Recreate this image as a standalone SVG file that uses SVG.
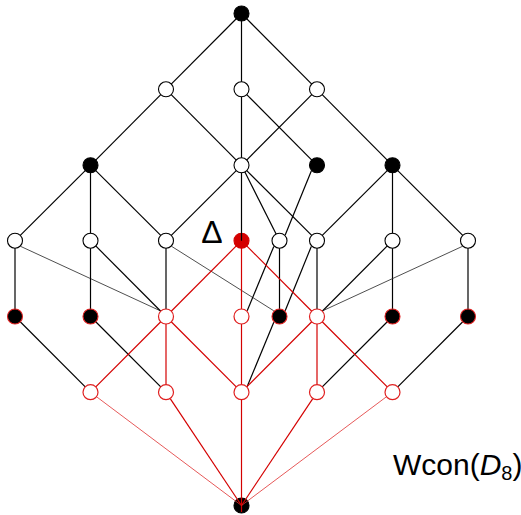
<svg xmlns="http://www.w3.org/2000/svg" width="521" height="515" viewBox="0 0 521 515">
<style>
.e{stroke:#000;stroke-width:1.2;fill:none}
.t{stroke:#222;stroke-width:0.8;fill:none}
.r{stroke:#d40000;stroke-width:1.2;fill:none}
.rt{stroke:#e03030;stroke-width:0.8;fill:none}
.w{fill:#fff;stroke:#000;stroke-width:1.1}
.b{fill:#000;stroke:#000;stroke-width:1.1}
.bR{fill:#000;stroke:#e02020;stroke-width:1.1}
.rw{fill:#fff;stroke:#e02020;stroke-width:1.2}
.rf{fill:#d40000;stroke:#d40000;stroke-width:1.1}
text{font-family:"Liberation Sans","DejaVu Sans",sans-serif;fill:#000}
</style>
<rect width="521" height="515" fill="#fff"/>
<g id="connectors">
<line class="e" x1="241.5" y1="13.5" x2="166" y2="89.3"/>
<line class="e" x1="241.5" y1="13.5" x2="241.5" y2="89.3"/>
<line class="e" x1="241.5" y1="13.5" x2="317" y2="89.3"/>
<line class="e" x1="166" y1="89.3" x2="90.5" y2="165.3"/>
<line class="e" x1="166" y1="89.3" x2="241.5" y2="165.3"/>
<line class="e" x1="241.5" y1="89.3" x2="241.5" y2="165.3"/>
<line class="e" x1="241.5" y1="89.3" x2="317" y2="165.3"/>
<line class="e" x1="317" y1="89.3" x2="241.5" y2="165.3"/>
<line class="e" x1="317" y1="89.3" x2="392.5" y2="165.3"/>
<line class="e" x1="90.5" y1="165.3" x2="15" y2="240.7"/>
<line class="e" x1="90.5" y1="165.3" x2="90.5" y2="240.7"/>
<line class="e" x1="90.5" y1="165.3" x2="166" y2="240.7"/>
<line class="e" x1="241.5" y1="165.3" x2="166" y2="240.7"/>
<line class="e" x1="241.5" y1="165.3" x2="279.5" y2="240.7"/>
<line class="e" x1="241.5" y1="165.3" x2="317" y2="240.7"/>
<line class="e" x1="311.3" y1="171" x2="285.2" y2="235"/>
<line class="e" x1="392.5" y1="165.3" x2="317" y2="240.7"/>
<line class="e" x1="392.5" y1="165.3" x2="392.5" y2="240.7"/>
<line class="e" x1="392.5" y1="165.3" x2="468" y2="240.7"/>
<line class="e" x1="15" y1="240.7" x2="15" y2="316.5"/>
<line class="t" x1="20.7" y1="246.4" x2="160.3" y2="310.8"/>
<line class="e" x1="90.5" y1="240.7" x2="90.5" y2="316.5"/>
<line class="e" x1="90.5" y1="240.7" x2="166" y2="316.5"/>
<line class="e" x1="166" y1="240.7" x2="166" y2="316.5"/>
<line class="t" x1="171.7" y1="246.4" x2="273.8" y2="310.8"/>
<line class="e" x1="279.5" y1="240.7" x2="279.5" y2="316.5"/>
<line class="e" x1="273.8" y1="246.4" x2="247.2" y2="310.8"/>
<line class="e" x1="317" y1="240.7" x2="317" y2="316.5"/>
<line class="e" x1="311.3" y1="246.4" x2="285.2" y2="310.8"/>
<line class="e" x1="392.5" y1="240.7" x2="317" y2="316.5"/>
<line class="e" x1="392.5" y1="240.7" x2="392.5" y2="316.5"/>
<line class="e" x1="468" y1="240.7" x2="468" y2="316.5"/>
<line class="t" x1="462.3" y1="246.4" x2="322.7" y2="310.8"/>
<line class="r" x1="241.5" y1="240.7" x2="166" y2="316.5"/>
<line class="r" x1="241.5" y1="240.7" x2="241.5" y2="316.5"/>
<line class="r" x1="241.5" y1="240.7" x2="317" y2="316.5"/>
<line class="e" x1="15" y1="316.5" x2="90.5" y2="392.2"/>
<line class="e" x1="90.5" y1="316.5" x2="166" y2="392.2"/>
<line class="e" x1="273.8" y1="322.2" x2="247.2" y2="386.5"/>
<line class="e" x1="392.5" y1="316.5" x2="317" y2="392.2"/>
<line class="e" x1="468" y1="316.5" x2="392.5" y2="392.2"/>
<line class="r" x1="166" y1="316.5" x2="90.5" y2="392.2"/>
<line class="r" x1="166" y1="316.5" x2="166" y2="392.2"/>
<line class="r" x1="166" y1="316.5" x2="241.5" y2="392.2"/>
<line class="r" x1="241.5" y1="316.5" x2="241.5" y2="392.2"/>
<line class="r" x1="317" y1="316.5" x2="241.5" y2="392.2"/>
<line class="r" x1="317" y1="316.5" x2="317" y2="392.2"/>
<line class="r" x1="317" y1="316.5" x2="392.5" y2="392.2"/>
</g>
<g id="n0"><circle class="b" cx="241.5" cy="13.5" r="7.5"/></g>
<g id="n1a"><circle class="w" cx="166" cy="89.3" r="7.5"/></g>
<g id="n1b"><circle class="w" cx="241.5" cy="89.3" r="7.5"/></g>
<g id="n1c"><circle class="w" cx="317" cy="89.3" r="7.5"/></g>
<g id="n2a"><circle class="b" cx="90.5" cy="165.3" r="7.5"/></g>
<g id="n2b"><circle class="w" cx="241.5" cy="165.3" r="7.5"/></g>
<g id="n2c"><circle class="b" cx="317" cy="165.3" r="7.5"/></g>
<g id="n2d"><circle class="b" cx="392.5" cy="165.3" r="7.5"/></g>
<g id="n3a"><circle class="w" cx="15" cy="240.7" r="7.5"/></g>
<g id="n3b"><circle class="w" cx="90.5" cy="240.7" r="7.5"/></g>
<g id="n3c"><circle class="w" cx="166" cy="240.7" r="7.5"/></g>
<g id="n3d"><circle class="rf" cx="241.5" cy="240.7" r="7.5"/><text x="212" y="243" font-size="32" text-anchor="middle">Δ</text></g>
<g id="n3e"><circle class="w" cx="279.5" cy="240.7" r="7.5"/></g>
<g id="n3f"><circle class="w" cx="317" cy="240.7" r="7.5"/></g>
<g id="n3g"><circle class="w" cx="392.5" cy="240.7" r="7.5"/></g>
<g id="n3h"><circle class="w" cx="468" cy="240.7" r="7.5"/></g>
<g id="n4a"><circle class="bR" cx="15" cy="316.5" r="7.5"/></g>
<g id="n4b"><circle class="bR" cx="90.5" cy="316.5" r="7.5"/></g>
<g id="n4c"><circle class="rw" cx="166" cy="316.5" r="7.5"/></g>
<g id="n4d"><circle class="rw" cx="241.5" cy="316.5" r="7.5"/></g>
<g id="n4e"><circle class="bR" cx="279.5" cy="316.5" r="7.5"/></g>
<g id="n4f"><circle class="rw" cx="317" cy="316.5" r="7.5"/></g>
<g id="n4g"><circle class="bR" cx="392.5" cy="316.5" r="7.5"/></g>
<g id="n4h"><circle class="bR" cx="468" cy="316.5" r="7.5"/></g>
<g id="n5a"><circle class="rw" cx="90.5" cy="392.2" r="7.5"/></g>
<g id="n5b"><circle class="rw" cx="166" cy="392.2" r="7.5"/></g>
<g id="n5c"><circle class="rw" cx="241.5" cy="392.2" r="7.5"/></g>
<g id="n5d"><circle class="rw" cx="317" cy="392.2" r="7.5"/></g>
<g id="n5e"><circle class="rw" cx="392.5" cy="392.2" r="7.5"/></g>
<g id="n6"><circle class="b" cx="241.5" cy="505.5" r="7.5"/></g>
<g id="connectors-over">
<line class="e" x1="241.5" y1="172.8" x2="241.5" y2="240.7"/>
<line class="rt" x1="96.9" y1="397" x2="241.5" y2="505.5"/>
<line class="r" x1="170.4" y1="398.9" x2="241.5" y2="505.5"/>
<line class="r" x1="241.5" y1="399.7" x2="241.5" y2="512"/>
<line class="r" x1="312.6" y1="398.9" x2="241.5" y2="505.5"/>
<line class="rt" x1="386.1" y1="397" x2="241.5" y2="505.5"/>
</g>
<g id="label"><text x="393" y="475" font-size="30">Wcon(<tspan font-style="italic">D</tspan><tspan font-size="20" dy="5">8</tspan><tspan dy="-5">)</tspan></text></g>
</svg>
